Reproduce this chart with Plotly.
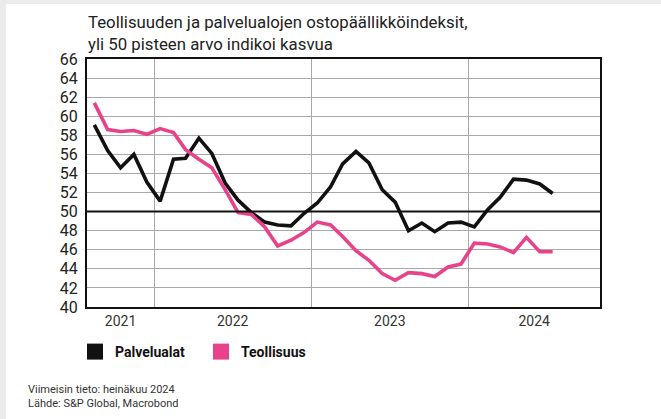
import plotly.graph_objects as go
import pandas as pd

# ---- data ----
months = pd.date_range("2021-08-01", "2024-07-01", freq="MS") + pd.Timedelta(days=14)
palvelualat = [59.1, 56.4, 54.6, 56.0, 53.1,
               51.1, 55.5, 55.6, 57.7, 56.1, 53.0, 51.2, 49.9, 48.9, 48.6, 48.5, 49.8,
               50.9, 52.6, 55.0, 56.3, 55.1, 52.3, 51.0, 48.0, 48.8, 47.9, 48.8, 48.9,
               48.4, 50.2, 51.5, 53.4, 53.3, 52.9, 51.9]
teollisuus = [61.4, 58.6, 58.4, 58.5, 58.1,
              58.7, 58.3, 56.5, 55.5, 54.6, 52.3, 49.9, 49.7, 48.4, 46.4, 47.0, 47.8,
              48.9, 48.6, 47.4, 45.9, 44.9, 43.5, 42.8, 43.6, 43.5, 43.2, 44.2, 44.5,
              46.7, 46.6, 46.3, 45.7, 47.3, 45.8, 45.8]
series_names = ["Palvelualat", "Teollisuus"]
year_labels = ["2021", "2022", "2023", "2024"]
y_ticks = list(range(40, 67, 2))

title_text = "Teollisuuden ja palvelualojen ostopäällikköindeksit,<br>yli 50 pisteen arvo indikoi kasvua"
footer_text = "Viimeisin tieto: heinäkuu 2024<br>Lähde: S&P Global, Macrobond"

# ---- layout constants ----
W, H = 661, 419
L, R, T, B = 87, 61, 59, 112
PW, PH = W - L - R, H - T - B
BLACK = "#111111"
PINK = "#e8428a"
GRID = "#a8a8a8"
FONT = "Roboto"

x_start = pd.Timestamp("2021-07-29")
x_end = pd.Timestamp("2024-11-02")


def px_x(p):
    return (p - L) / PW


def px_y(p):
    return (H - B - p) / PH


# year label positions: centre of visible part of each year
label_pos = []
for yl in year_labels:
    a = max(pd.Timestamp(f"{yl}-01-01"), x_start)
    b = min(pd.Timestamp(f"{int(yl)+1}-01-01"), x_end)
    label_pos.append(a + (b - a) / 2)

fig = go.Figure()
fig.add_trace(go.Scatter(x=months, y=palvelualat, mode="lines", name=series_names[0],
                         line=dict(color=BLACK, width=3.6), showlegend=False))
fig.add_trace(go.Scatter(x=months, y=teollisuus, mode="lines", name=series_names[1],
                         line=dict(color=PINK, width=3.6), showlegend=False))
# legend entries as squares
for nm, col in zip(series_names, [BLACK, PINK]):
    fig.add_trace(go.Scatter(x=[None], y=[None], mode="markers", name=nm,
                             marker=dict(symbol="square", size=16, color=col)))

# 50 line
fig.add_shape(type="line", xref="paper", yref="y", x0=0, x1=1, y0=50, y1=50,
              line=dict(color=BLACK, width=2), layer="above")

# background strips
fig.add_shape(type="rect", xref="paper", yref="paper", x0=px_x(-5), x1=px_x(6),
              y0=px_y(H + 5), y1=px_y(-5), fillcolor="#ebebeb", line_width=0, layer="below")
fig.add_shape(type="rect", xref="paper", yref="paper", x0=px_x(-5), x1=px_x(W + 5),
              y0=px_y(4), y1=px_y(-5), fillcolor="#ebebeb", line_width=0, layer="below")

fig.add_annotation(text=title_text, xref="paper", yref="paper", x=px_x(86), y=px_y(10),
                   xanchor="left", yanchor="top", align="left", showarrow=False,
                   font=dict(family=FONT, size=16.8, color="#222222"))
fig.add_annotation(text=footer_text, xref="paper", yref="paper", x=px_x(26), y=px_y(381),
                   xanchor="left", yanchor="top", align="left", showarrow=False,
                   font=dict(family=FONT, size=11, color="#333333"))

fig.update_layout(
    width=W, height=H,
    margin=dict(l=L, r=R, t=T, b=B),
    paper_bgcolor="white", plot_bgcolor="white",
    font=dict(family=FONT, color="#222222"),
    legend=dict(orientation="h", x=px_x(75), y=px_y(336), xanchor="left", yanchor="top",
                font=dict(family=FONT, size=14, color=BLACK, weight="bold"),
                itemsizing="trace", bgcolor="rgba(0,0,0,0)", tracegroupgap=0,
                entrywidth=81, entrywidthmode="pixels"),
    xaxis=dict(type="date", range=[x_start, x_end], showgrid=False,
               tickvals=label_pos, ticktext=year_labels, ticks="",
               tickfont=dict(size=14, color="#333333"),
               showline=True, mirror=True, linecolor=BLACK, linewidth=2,
               minor=dict(dtick="M12", tick0="2022-01-01", showgrid=True,
                          gridcolor=GRID, gridwidth=1, ticks=""),
               zeroline=False),
    yaxis=dict(range=[40, 66], tickvals=y_ticks, ticks="", showgrid=True,
               gridcolor=GRID, gridwidth=1, tickfont=dict(size=16, color="#222222"),
               showline=True, mirror=True, linecolor=BLACK, linewidth=2,
               zeroline=False, ticklabelstandoff=4),
)

fig.write_html("out.html", config={"displayModeBar": False},
               post_script="document.body.style.margin='0';document.body.style.overflow='hidden';")
